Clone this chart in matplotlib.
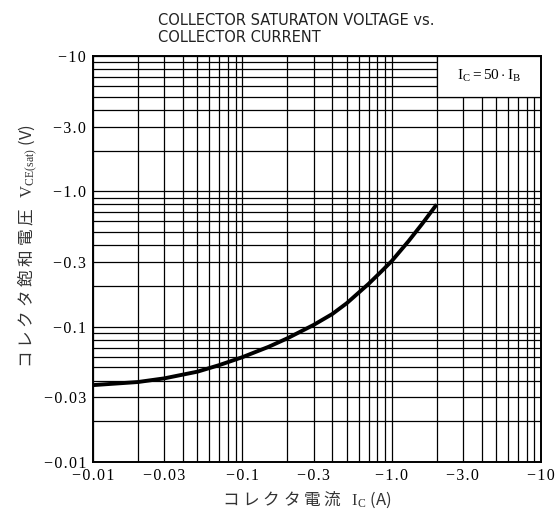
import matplotlib
matplotlib.use("Agg")
import matplotlib.pyplot as plt
from matplotlib.patches import Rectangle

plt.rcParams['mathtext.fontset'] = 'custom'
plt.rcParams['mathtext.rm'] = 'Liberation Serif'
plt.rcParams['mathtext.it'] = 'Liberation Serif'

# curve (magnitudes, labels shown negative)
ic_values = [0.01, 0.02, 0.03, 0.05, 0.07, 0.1, 0.15, 0.2, 0.3, 0.4, 0.5, 0.7, 0.85, 1.0, 1.3, 1.6, 2.0]
vce_values = [0.037, 0.039, 0.0415, 0.0465, 0.052, 0.0595, 0.071, 0.082, 0.103, 0.124, 0.149,
              0.207, 0.255, 0.305, 0.43, 0.575, 0.80]

tick_values = [0.01, 0.03, 0.1, 0.3, 1.0, 3.0, 10]
tick_labels = ["\u22120.01", "\u22120.03", "\u22120.1", "\u22120.3", "\u22121.0", "\u22123.0", "\u221210"]


def spaced(s):
    # original uses wide letter spacing on the scale numbers
    return "\u200a".join(s)


fig = plt.figure(figsize=(5.59, 5.13), dpi=100)
ax = fig.add_axes([0.1664, 0.0994, 0.8014, 0.7914])

ax.set_xscale("log")
ax.set_yscale("log")
ax.set_xlim(0.01, 10)
ax.set_ylim(0.01, 10)

# full 1-9 grid in every decade
ax.grid(True, which="both", color="black", linewidth=0.9, zorder=1)
ax.set_axisbelow(True)

serif = ["Liberation Serif", "DejaVu Serif"]
ax.set_xticks(tick_values)
ax.set_xticklabels([spaced(t) for t in tick_labels], family=serif, fontsize=11.5)
ax.set_yticks(tick_values)
ax.set_yticklabels([spaced(t) for t in tick_labels], family=serif, fontsize=11.5)
ax.tick_params(which="both", length=0)
ax.tick_params(axis="y", pad=5)
ax.tick_params(axis="x", pad=4)
for s in ax.spines.values():
    s.set_linewidth(1.4)

ax.plot(ic_values, vce_values, color="black", linewidth=2.8, zorder=3,
        solid_capstyle="butt")

# condition box in upper right, hides the grid behind it
ax.add_patch(Rectangle((2.0, 5.0), 8.0, 5.0, facecolor="white", edgecolor="black",
                       linewidth=0.9, zorder=2))
ax.text(4.5, 7.1, r"$\mathrm{I_C = 50 \cdot I_B}$", ha="center", va="center",
        fontsize=11, zorder=4)

fig.text(0.283, 0.943, "COLLECTOR SATURATON VOLTAGE vs.\nCOLLECTOR CURRENT",
         ha="left", va="center", fontsize=10.5, linespacing=1.15, color="#222222",
         family=["Liberation Sans Narrow", "DejaVu Sans"])

jp = ["Noto Sans CJK JP", "DejaVu Sans"]
fig.text(0.548, 0.025, "コ レ ク タ 電 流   $\\mathrm{I_C}$ (A)", ha="center", va="center",
         fontsize=12, family=jp, color="#333333")
fig.text(0.05, 0.52, "コ レ ク タ 飽 和 電 圧   $\\mathrm{V_{CE(sat)}}$ (V)", ha="center",
         va="center", rotation=90, fontsize=12, family=jp, color="#333333")

fig.savefig("out.png", dpi=100)
